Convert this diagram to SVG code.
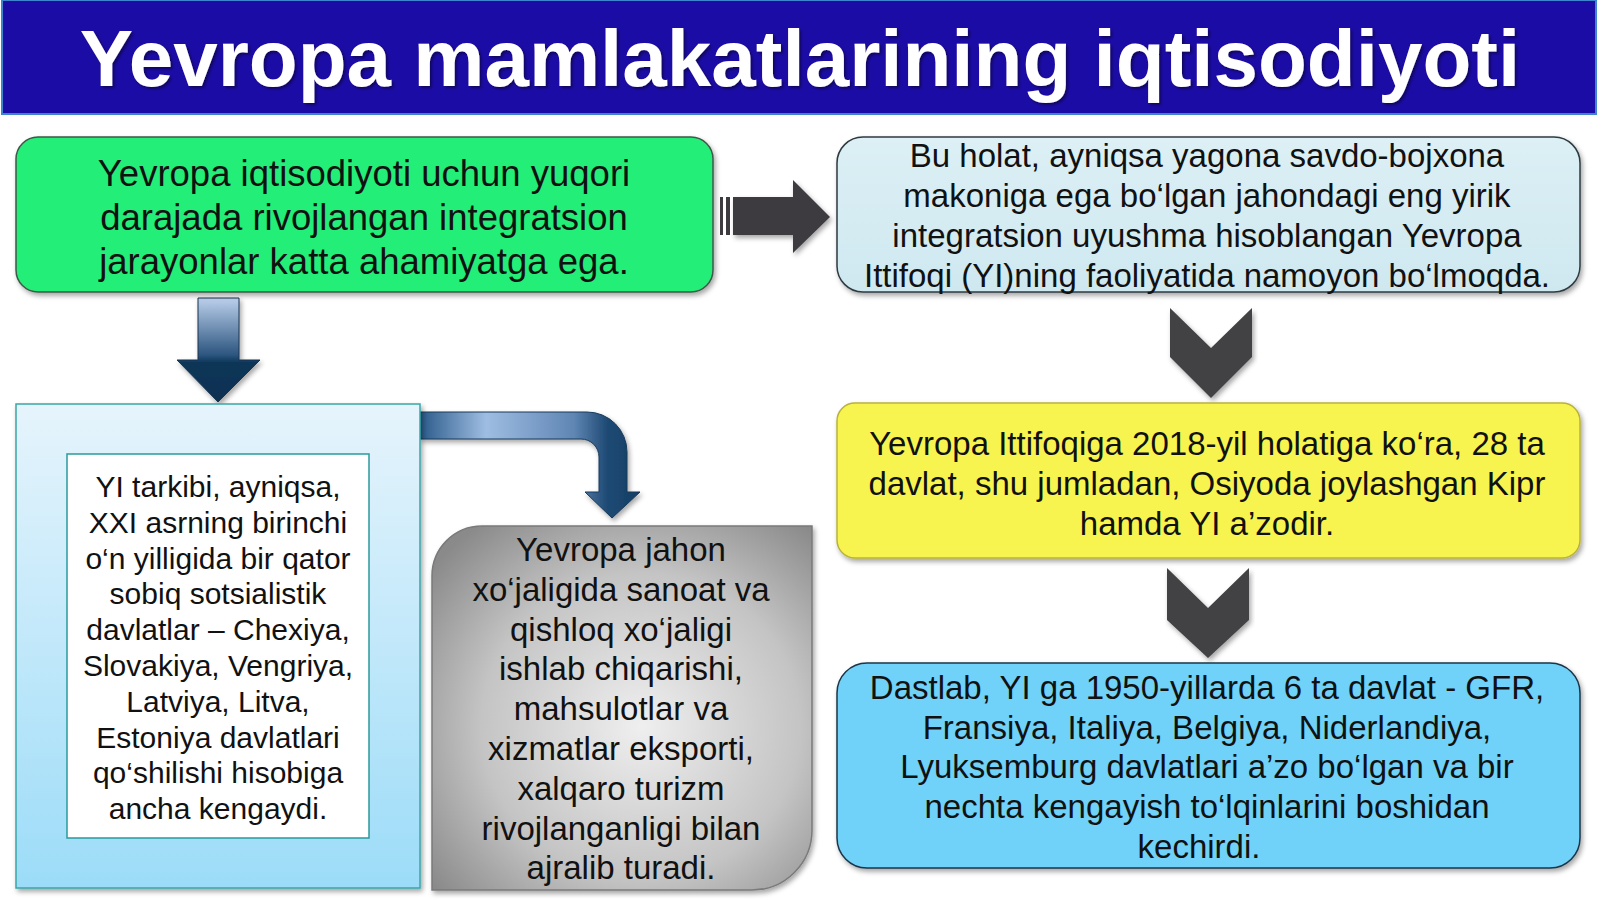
<svg xmlns="http://www.w3.org/2000/svg" width="1600" height="899" viewBox="0 0 1600 899">
<defs>
<style>
.t{font-family:"Liberation Sans",Arial,sans-serif;fill:#111;text-anchor:middle}
.f36{font-size:36.5px}
.f33{font-size:33px}
.f30{font-size:30px}
</style>
<filter id="sh" x="-5%" y="-5%" width="112%" height="115%">
<feDropShadow dx="2" dy="3" stdDeviation="2.5" flood-color="#000" flood-opacity="0.35"/>
</filter>
<filter id="tsh" x="-2%" y="-5%" width="104%" height="115%">
<feDropShadow dx="2" dy="2" stdDeviation="1.5" flood-color="#000" flood-opacity="0.45"/>
</filter>
<linearGradient id="gTopR" x1="0" y1="0" x2="0" y2="1">
<stop offset="0" stop-color="#dcf0f5"/>
<stop offset="1" stop-color="#cfe8f0"/>
</linearGradient>
<linearGradient id="gOuter" x1="0" y1="0" x2="0" y2="1">
<stop offset="0" stop-color="#e6f4fc"/>
<stop offset="1" stop-color="#9cdcf8"/>
</linearGradient>
<radialGradient id="gGray" cx="0.55" cy="0.55" r="0.7">
<stop offset="0" stop-color="#efefef"/>
<stop offset="0.6" stop-color="#c4c4c4"/>
<stop offset="1" stop-color="#8a8a8a"/>
</radialGradient>
<linearGradient id="gDown" x1="0" y1="298" x2="0" y2="402" gradientUnits="userSpaceOnUse">
<stop offset="0" stop-color="#bcd0ec"/>
<stop offset="0.55" stop-color="#2c557f"/>
<stop offset="0.62" stop-color="#0f3658"/>
<stop offset="1" stop-color="#0c3050"/>
</linearGradient>
<linearGradient id="gCurve" x1="420" y1="0" x2="640" y2="0" gradientUnits="userSpaceOnUse">
<stop offset="0" stop-color="#2a5a8a"/>
<stop offset="0.3" stop-color="#9fbde2"/>
<stop offset="0.7" stop-color="#5f86b4"/>
<stop offset="0.85" stop-color="#1f4a74"/>
<stop offset="1" stop-color="#143e64"/>
</linearGradient>
</defs>
<rect width="1600" height="899" fill="#fff"/>

<g id="title">
<rect x="2" y="0" width="1594" height="114" fill="#1c0ca6" stroke="#3d86cf" stroke-width="2"/>
<text x="800" y="86" font-family="'Liberation Sans',Arial,sans-serif" font-size="80" font-weight="bold" fill="#fff" text-anchor="middle" filter="url(#tsh)">Yevropa mamlakatlarining iqtisodiyoti</text>
</g>

<g id="connectors">
<g id="arrow-right">
<rect x="720" y="197" width="3" height="38" fill="#3d3b40"/>
<rect x="726" y="197" width="4" height="38" fill="#3d3b40"/>
<path d="M733,197 H793 V180 L830,217 L793,253 V235 H733 Z" fill="#3d3b40" filter="url(#sh)"/>
</g>
<path id="arrow-down" d="M198,298 H239 V360 H260 L218,402 L177,360 H198 Z" fill="url(#gDown)" stroke="#1a3550" stroke-width="1" filter="url(#sh)"/>
<path id="arrow-curve" d="M420,412 H587 A40,40 0 0 1 627,452 V492 H640 L612,518 L585,492 H599 V457 A18,18 0 0 0 581,439 H420 Z" fill="url(#gCurve)" stroke="#1a3a5a" stroke-width="1" filter="url(#sh)"/>
<path id="chevron-1" d="M1170,308 L1211,348 L1252,308 V357 L1211,398 L1170,357 Z" fill="#434245" filter="url(#sh)"/>
<path id="chevron-2" d="M1167,568 L1208,608 L1249,568 V620 L1208,658 L1167,620 Z" fill="#434245" filter="url(#sh)"/>
</g>

<g id="node-green">
<rect x="16" y="137" width="697" height="155" rx="22" fill="#22ee78" stroke="#3c5a48" stroke-width="1.5" filter="url(#sh)"/>
<text class="t f36"><tspan x="364" y="186">Yevropa iqtisodiyoti uchun yuqori</tspan><tspan x="364" y="230">darajada rivojlangan integratsion</tspan><tspan x="364" y="274">jarayonlar katta ahamiyatga ega.</tspan></text>
</g>

<g id="node-top-right">
<rect x="837" y="137" width="743" height="155" rx="26" fill="url(#gTopR)" stroke="#2e3a40" stroke-width="1.5" filter="url(#sh)"/>
<text class="t f33"><tspan x="1207" y="167">Bu holat, ayniqsa yagona savdo-bojxona</tspan><tspan x="1207" y="207">makoniga ega bo‘lgan jahondagi eng yirik</tspan><tspan x="1207" y="247">integratsion uyushma hisoblangan Yevropa</tspan><tspan x="1207" y="287">Ittifoqi (YI)ning faoliyatida namoyon bo‘lmoqda.</tspan></text>
</g>

<g id="node-left">
<rect x="16" y="404" width="404" height="484" fill="url(#gOuter)" stroke="#3aa6a8" stroke-width="1.5" filter="url(#sh)"/>
<rect x="67" y="454" width="302" height="384" fill="#fff" stroke="#2a9a9c" stroke-width="1.5"/>
<text class="t f30"><tspan x="218" y="497">YI tarkibi, ayniqsa,</tspan><tspan x="218" y="533">XXI asrning birinchi</tspan><tspan x="218" y="569">o‘n yilligida bir qator</tspan><tspan x="218" y="604">sobiq sotsialistik</tspan><tspan x="218" y="640">davlatlar – Chexiya,</tspan><tspan x="218" y="676">Slovakiya, Vengriya,</tspan><tspan x="218" y="712">Latviya, Litva,</tspan><tspan x="218" y="748">Estoniya davlatlari</tspan><tspan x="218" y="783">qo‘shilishi hisobiga</tspan><tspan x="218" y="819">ancha kengaydi.</tspan></text>
</g>

<g id="node-gray">
<path d="M432,576 A50,50 0 0 1 482,526 H812 V830 A60,60 0 0 1 752,890 H432 Z" fill="url(#gGray)" stroke="#7a7a7a" stroke-width="1.5" filter="url(#sh)"/>
<text class="t f33"><tspan x="621" y="561">Yevropa jahon</tspan><tspan x="621" y="601">xo‘jaligida sanoat va</tspan><tspan x="621" y="641">qishloq xo‘jaligi</tspan><tspan x="621" y="680">ishlab chiqarishi,</tspan><tspan x="621" y="720">mahsulotlar va</tspan><tspan x="621" y="760">xizmatlar eksporti,</tspan><tspan x="621" y="800">xalqaro turizm</tspan><tspan x="621" y="840">rivojlanganligi bilan</tspan><tspan x="621" y="879">ajralib turadi.</tspan></text>
</g>

<g id="node-yellow">
<rect x="837" y="403" width="743" height="155" rx="18" fill="#f8f44f" stroke="#b9b23a" stroke-width="1.5" filter="url(#sh)"/>
<text class="t f33"><tspan x="1207" y="455">Yevropa Ittifoqiga 2018-yil holatiga ko‘ra, 28 ta</tspan><tspan x="1207" y="495">davlat, shu jumladan, Osiyoda joylashgan Kipr</tspan><tspan x="1207" y="535">hamda YI a’zodir.</tspan></text>
</g>

<g id="node-blue">
<rect x="837" y="663" width="743" height="205" rx="30" fill="#70d2f8" stroke="#1c3448" stroke-width="1.5" filter="url(#sh)"/>
<text class="t f33"><tspan x="1207" y="699">Dastlab, YI ga 1950-yillarda 6 ta davlat - GFR,</tspan><tspan x="1207" y="739">Fransiya, Italiya, Belgiya, Niderlandiya,</tspan><tspan x="1207" y="778">Lyuksemburg davlatlari a’zo bo‘lgan va bir</tspan><tspan x="1207" y="818">nechta kengayish to‘lqinlarini boshidan</tspan><tspan x="1199" y="858">kechirdi.</tspan></text>
</g>
</svg>
